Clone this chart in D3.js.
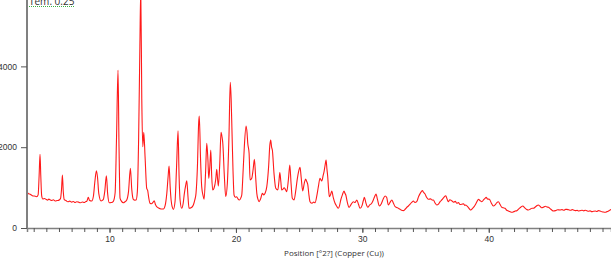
<!DOCTYPE html>
<html>
<head>
<meta charset="utf-8">
<script src="https://cdn.jsdelivr.net/npm/d3@7"></script>
<style>
  body { margin: 0; background: #fff; }
  svg { display: block; font-family: "Open Sans", "Noto Sans", sans-serif; }
</style>
</head>
<body>
<script>
// pattern: position (°2θ) and counts, one line per stretch
const twoTheta = [
  3.47, 3.60, 3.75, 3.90, 4.05, 4.24, 4.35, 4.43, 4.50, 4.56, 4.63, 4.72, 4.85,
  5.00, 5.10, 5.20, 5.29, 5.42, 5.55, 5.70, 5.85, 6.00, 6.12, 6.20, 6.27, 6.34, 6.42, 6.55, 6.70, 6.85,
  7.00, 7.15, 7.27, 7.40, 7.55, 7.70, 7.85, 8.00, 8.10, 8.20, 8.32, 8.42, 8.59,
  8.72, 8.84, 8.96, 9.05, 9.15, 9.33, 9.50, 9.62, 9.75, 9.85, 9.98,
  10.15, 10.30, 10.44, 10.55, 10.67, 10.75, 10.83, 10.95, 11.09,
  11.22, 11.36, 11.50, 11.65, 11.76, 11.88, 12.00, 12.10,
  12.20, 12.30, 12.40, 12.47, 12.55, 12.63, 12.71, 12.81, 12.94, 13.02, 13.10,
  13.20, 13.32, 13.45, 13.54, 13.63, 13.73, 13.85, 13.99, 14.12, 14.26,
  14.40, 14.53, 14.64, 14.71, 14.80, 14.87, 14.96, 15.05,
  15.18, 15.30, 15.42, 15.50, 15.58, 15.71, 15.82, 15.92, 16.02, 16.11, 16.20, 16.29,
  16.45, 16.63, 16.75, 16.84, 16.95, 17.05, 17.10, 17.20, 17.29, 17.40, 17.48,
  17.60, 17.69, 17.78, 17.85, 17.93, 18.01, 18.08, 18.16, 18.27, 18.40, 18.48, 18.55, 18.61,
  18.72, 18.82, 18.90, 18.96, 19.08, 19.19, 19.32,
  19.45, 19.55, 19.62, 19.69, 19.77, 19.85, 19.95, 20.06, 20.16, 20.27, 20.38, 20.46,
  20.55, 20.66, 20.80, 20.88, 20.93, 21.04, 21.12, 21.25, 21.36, 21.46, 21.55, 21.65, 21.75, 21.83,
  21.95, 22.09, 22.20, 22.30, 22.44, 22.58, 22.68, 22.75, 22.82, 22.88, 23.01, 23.15, 23.31,
  23.40, 23.47, 23.55, 23.62, 23.72, 23.81, 23.92, 24.02, 24.15, 24.26, 24.36, 24.46, 24.60,
  24.72, 24.86, 24.96, 25.07, 25.16, 25.28, 25.40, 25.51, 25.60, 25.68, 25.78, 25.86, 26.02, 26.15, 26.26,
  26.40, 26.52, 26.65, 26.79, 26.90, 26.97, 27.05, 27.13, 27.20, 27.26, 27.33, 27.39, 27.48, 27.58, 27.70, 27.84,
  27.97, 28.10, 28.20, 28.29, 28.42, 28.55, 28.62, 28.69, 28.80, 28.95, 29.10, 29.29, 29.42, 29.56, 29.70, 29.82,
  29.98, 30.08, 30.16, 30.28, 30.43, 30.58, 30.74, 30.90, 31.00, 31.08, 31.20, 31.35, 31.50, 31.65, 31.80, 31.92, 32.06,
  32.20, 32.33, 32.45, 32.59, 32.78, 32.98, 33.10, 33.24, 33.40, 33.54, 33.64, 33.80, 33.92, 34.04, 34.16, 34.30,
  34.45, 34.60, 34.75, 34.85, 34.96, 35.08, 35.22, 35.40, 35.52, 35.62, 35.75, 35.89, 36.02, 36.15, 36.30, 36.45, 36.60, 36.70, 36.80,
  36.92, 37.07, 37.22, 37.35, 37.47, 37.60, 37.72, 37.86, 38.00, 38.10, 38.18, 38.35, 38.48, 38.58, 38.70, 38.84, 38.98, 39.08, 39.18,
  39.30, 39.45, 39.60, 39.72, 39.79, 39.90, 40.05, 40.20, 40.36, 40.50, 40.62, 40.76, 40.90, 41.03, 41.15, 41.29, 41.42, 41.55, 41.70, 41.82,
  41.98, 42.10, 42.22, 42.40, 42.55, 42.69, 42.85, 43.00, 43.13, 43.30, 43.42, 43.53, 43.68, 43.80, 43.92, 44.05, 44.18, 44.32, 44.48, 44.60, 44.72,
  44.85, 45.00, 45.11, 45.28, 45.45, 45.64, 45.80, 45.95, 46.08, 46.17, 46.32, 46.48, 46.60, 46.69, 46.85, 47.00, 47.10, 47.22,
  47.38, 47.52, 47.63, 47.75, 47.90, 48.02, 48.15, 48.28, 48.42, 48.55, 48.68, 48.81, 48.95, 49.08, 49.20, 49.35, 49.48, 49.60, 49.67
];
const counts = [
  880, 850, 830, 800, 790, 775, 820, 1300, 1824, 1300, 800, 718, 730,
  705, 690, 715, 700, 680, 700, 670, 680, 690, 730, 950, 1312, 900, 700, 680, 650, 665,
  640, 655, 630, 650, 640, 625, 645, 630, 650, 660, 760, 680, 668,
  780, 1150, 1418, 1250, 850, 668, 700, 900, 1294, 850, 626,
  630, 660, 866, 2200, 3910, 2000, 742, 660, 626,
  650, 693, 900, 1477, 950, 710, 690, 693,
  900, 2200, 4500, 5900, 3200, 2012, 2368, 1765, 982, 924, 750,
  611, 600, 640, 676, 580, 528, 500, 480, 470, 470,
  560, 858, 1300, 1535, 1000, 693, 520, 462,
  650, 1500, 2408, 1300, 693, 487, 600, 858, 1050, 1171, 800, 487,
  500, 569, 700, 858, 1500, 2600, 2772, 1700, 1023, 800, 710,
  1400, 2096, 1700, 1229, 1500, 1930, 1300, 940, 990, 1200, 1452, 1200, 1040,
  1600, 2368, 2250, 2096, 1300, 775, 1106,
  2300, 3606, 3200, 2343, 1400, 817, 760, 775, 720, 693, 740, 817,
  1300, 2000, 2525, 2350, 2112, 1848, 1188, 1229, 1450, 1700, 1300, 858, 700, 651,
  720, 858, 820, 858, 1023, 1500, 2050, 2178, 2000, 1930, 1353, 982, 940,
  1150, 1370, 1150, 940, 960, 998, 950, 899, 1200, 1559, 1100, 734, 693,
  900, 1229, 1400, 1500, 1250, 920, 1100, 1210, 1150, 1080, 800, 651, 611, 640, 626,
  800, 1023, 1229, 1163, 1300, 1394, 1550, 1683, 1450, 1270, 950, 775, 820, 916, 750, 611,
  540, 487, 560, 693, 820, 916, 860, 817, 650, 512, 580, 651, 630, 693, 580, 487,
  560, 680, 759, 620, 512, 570, 611, 720, 800, 842, 700, 545, 600, 720, 792, 760, 569,
  640, 693, 620, 528, 500, 462, 440, 429, 470, 520, 545, 600, 640, 668, 630, 651,
  780, 870, 924, 880, 842, 760, 710, 720, 690, 693, 620, 569, 590, 651, 700, 760, 800, 720, 651,
  700, 676, 640, 660, 611, 630, 580, 586, 600, 560, 569, 520, 470, 446, 480, 528, 600, 660, 710,
  680, 651, 700, 740, 759, 720, 710, 620, 545, 570, 620, 651, 580, 512, 500, 487, 440, 420, 400, 388,
  405, 420, 429, 480, 520, 545, 500, 460, 446, 470, 490, 487, 520, 550, 569, 540, 500, 512, 540, 520, 512,
  480, 440, 421, 430, 450, 446, 455, 440, 460, 462, 450, 440, 455, 446, 430, 440, 420, 429,
  440, 425, 440, 429, 415, 425, 405, 413, 420, 410, 430, 421, 400, 395, 388, 405, 420, 446, 460
];

const yTicks = [0, 2000, 4000];
const xLabelTicks = [10, 20, 30, 40];
const title = "Tem. 0.25";
const xTitle = "Position [°2?] (Copper (Cu))";

const width = 611, height = 262;
const margin = {top: 0, right: 0, bottom: 34, left: 27};

const svg = d3.select("body").append("svg")
    .attr("width", width)
    .attr("height", height);

const x = d3.scaleLinear()
    .domain([3.47, 49.67])
    .range([margin.left, width - margin.right]);

const y = d3.scaleLinear()
    .domain([0, 5643])
    .range([height - margin.bottom, margin.top]);

svg.append("clipPath").attr("id", "clip")
    .append("rect")
    .attr("x", margin.left)
    .attr("y", 0)
    .attr("width", width - margin.left)
    .attr("height", height - margin.bottom);

const points = twoTheta.map((d, i) => [d, counts[i]]);

const line = d3.line()
    .x(d => x(d[0]))
    .y(d => y(d[1]))
    .curve(d3.curveMonotoneX);

svg.append("path")
    .datum(points)
    .attr("clip-path", "url(#clip)")
    .attr("fill", "none")
    .attr("stroke", "#ff1a1a")
    .attr("stroke-width", 1.1)
    .attr("stroke-linejoin", "round")
    .attr("d", line);

// x axis: minor ticks every degree, labels every ten
const xAxis = svg.append("g")
    .attr("transform", `translate(0,${height - margin.bottom})`)
    .call(d3.axisBottom(x).tickValues(d3.range(4, 50, 1)).tickSize(4).tickFormat(""));
xAxis.select(".domain").attr("stroke", "#808080").attr("stroke-width", 1.5);
xAxis.selectAll(".tick line").attr("stroke", "#555");

const xLab = svg.append("g")
    .attr("transform", `translate(0,${height - margin.bottom})`)
    .call(d3.axisBottom(x).tickValues(xLabelTicks).tickSize(5).tickPadding(3).tickFormat(d3.format("d")));
xLab.select(".domain").remove();
xLab.selectAll(".tick line").attr("stroke", "#555");
xLab.selectAll("text").attr("fill", "#333").style("font-size", "8.5px");

// y axis
const yAxis = svg.append("g")
    .attr("transform", `translate(${margin.left},0)`)
    .call(d3.axisLeft(y).tickValues(yTicks).tickSize(6).tickPadding(4).tickFormat(d3.format("d")));
yAxis.select(".domain").attr("stroke", "#808080").attr("stroke-width", 2).attr("d", `M0,0V${height - margin.bottom}`);
yAxis.selectAll(".tick line").attr("stroke", "#555");
yAxis.selectAll("text").attr("fill", "#333").style("font-size", "8.5px");

svg.append("text")
    .attr("x", 334)
    .attr("y", 256)
    .attr("text-anchor", "middle")
    .attr("fill", "#333")
    .style("font-size", "8px")
    .text(xTitle);

// title, cut by the top edge, with the green dotted underline
const t = svg.append("text")
    .attr("x", 29)
    .attr("y", 5)
    .attr("fill", "#333")
    .style("font-size", "10px")
    .text(title);
const tw = t.node().getComputedTextLength();
svg.append("line")
    .attr("x1", 29).attr("x2", 29 + tw)
    .attr("y1", 6.5).attr("y2", 6.5)
    .attr("stroke", "#3cb043")
    .attr("stroke-width", 1)
    .attr("stroke-dasharray", "1,1");
</script>
</body>
</html>
